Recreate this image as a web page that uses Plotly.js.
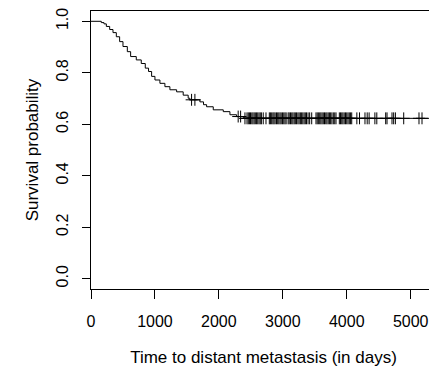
<!DOCTYPE html>
<html>
<head>
<meta charset="utf-8">
<script src="https://cdn.plot.ly/plotly-3.0.1.min.js"></script>
<style>
html, body { margin: 0; padding: 0; overflow: hidden; background: #fff; }
#chart { width: 436px; height: 368px; }
</style>
</head>
<body>
<div id="chart"></div>
<script>
// Kaplan-Meier step curve (event times in days, survival after each step)
const stepTimes = [0, 161, 203, 240, 292, 344, 396, 448, 500, 568, 620, 708, 786, 849, 900, 948, 1000, 1078, 1156, 1234, 1339, 1442, 1520, 1547, 1703, 1760, 1808, 1912, 2069, 2173, 2277, 2390, 5400];
const stepSurv  = [1.000, 0.995, 0.990, 0.980, 0.968, 0.956, 0.940, 0.921, 0.902, 0.882, 0.863, 0.850, 0.836, 0.818, 0.805, 0.786, 0.772, 0.759, 0.746, 0.734, 0.726, 0.713, 0.701, 0.695, 0.687, 0.676, 0.668, 0.656, 0.649, 0.637, 0.630, 0.623, 0.623];

// Censoring times (days)
const censorTimes = [1573, 1625, 2302, 2340, 2408, 2440,
  2460, 2478, 2495, 2515, 2533, 2552, 2570, 2590, 2608, 2628, 2647, 2665, 2694,
  2737,
  2789, 2806, 2826, 2845, 2862, 2880, 2901, 2920, 2938, 2957, 2975, 2996, 3015, 3034, 3052,
  3083, 3100, 3120, 3140, 3158, 3178, 3196, 3215, 3236, 3255, 3275, 3294, 3313, 3333, 3352, 3370, 3395, 3420, 3452,
  3519, 3538, 3556, 3577, 3595, 3614, 3633, 3652, 3672, 3690, 3710, 3729, 3748, 3768, 3790, 3812, 3832,
  3884, 3903, 3922, 3940, 3960, 3980, 4000, 4020, 4040, 4060, 4078,
  4158, 4200, 4285, 4320, 4350, 4440, 4470,
  4609, 4630, 4708, 4734, 4761, 4891, 5130, 5177, 5400];

const xTickVals = [0, 1000, 2000, 3000, 4000, 5000];
const xTickText = ['0', '1000', '2000', '3000', '4000', '5000'];
const yTickVals = [0, 0.2, 0.4, 0.6, 0.8, 1.0];
const yTickText = ['0.0', '0.2', '0.4', '0.6', '0.8', '1.0'];

function survAt(t) {
  let s = stepSurv[0];
  for (let i = 0; i < stepTimes.length; i++) {
    if (stepTimes[i] <= t) s = stepSurv[i]; else break;
  }
  return s;
}
const censorSurv = censorTimes.map(survAt);

const font = 'Liberation Sans, Arial, Helvetica, sans-serif';

const traces = [
  {
    x: stepTimes, y: stepSurv, type: 'scatter', mode: 'lines',
    line: { shape: 'hv', color: '#000', width: 1 },
    hoverinfo: 'skip', showlegend: false
  },
  {
    x: censorTimes, y: censorSurv, type: 'scatter', mode: 'markers',
    marker: { symbol: 'cross-thin', size: 8.5, color: '#000', line: { color: '#000', width: 1 } },
    hoverinfo: 'skip', showlegend: false
  }
];

const layout = {
  width: 436, height: 368,
  margin: { l: 91, r: 0, t: 11, b: 79, pad: 0 },
  paper_bgcolor: '#fff', plot_bgcolor: '#fff',
  font: { family: font, size: 16, color: '#000' },
  showlegend: false,
  xaxis: {
    range: [0, 5396], tickmode: 'array', tickvals: xTickVals, ticktext: xTickText,
    ticks: 'outside', ticklen: 9, tickwidth: 1, tickcolor: '#000',
    ticklabelstandoff: 9,
    showline: true, linecolor: '#000', linewidth: 1, mirror: true,
    showgrid: false, zeroline: false,
    tickfont: { family: font, size: 16, color: '#000' },
    title: { text: 'Time to distant metastasis (in days)', font: { family: font, size: 17, color: '#000' }, standoff: 21 },
    automargin: false
  },
  yaxis: {
    range: [-0.04, 1.04], tickmode: 'array', tickvals: yTickVals, ticktext: yTickText,
    tickangle: -90,
    ticks: 'outside', ticklen: 8, tickwidth: 1, tickcolor: '#000',
    ticklabelstandoff: 8,
    showline: true, linecolor: '#000', linewidth: 1, mirror: true,
    showgrid: false, zeroline: false,
    tickfont: { family: font, size: 16, color: '#000' },
    title: { text: 'Survival probability', font: { family: font, size: 17, color: '#000' }, standoff: 10 },
    automargin: false
  }
};

Plotly.newPlot('chart', traces, layout, { staticPlot: true, displayModeBar: false });
</script>
</body>
</html>
